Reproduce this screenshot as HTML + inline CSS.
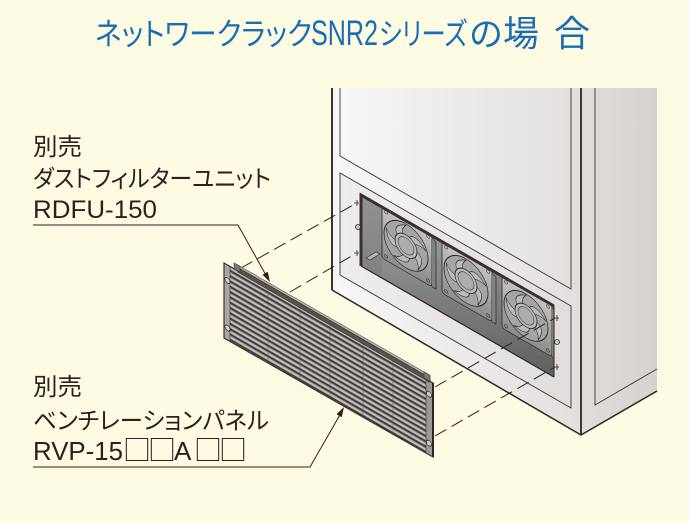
<!DOCTYPE html>
<html><head><meta charset="utf-8">
<style>
html,body{margin:0;padding:0;background:#fefbe3;}
svg{display:block}
.t{font-family:"Liberation Sans","Noto Sans CJK JP",sans-serif;}
.j{font-family:"Liberation Sans","Noto Sans CJK JP",sans-serif;font-feature-settings:"palt";}
.b{font-family:"Noto Sans CJK JP",sans-serif;}
</style></head>
<body>
<svg width="689" height="524" viewBox="0 0 689 524" xmlns="http://www.w3.org/2000/svg">
<defs>
 <linearGradient id="front" x1="332" y1="0" x2="581" y2="0" gradientUnits="userSpaceOnUse">
  <stop offset="0" stop-color="#f8f7f7"/><stop offset="1" stop-color="#e2dfdd"/>
 </linearGradient>
 <linearGradient id="front2" x1="340" y1="0" x2="571" y2="0" gradientUnits="userSpaceOnUse">
  <stop offset="0" stop-color="#efedec"/><stop offset="1" stop-color="#e0dddb"/>
 </linearGradient>
 <linearGradient id="side" x1="581" y1="0" x2="657" y2="0" gradientUnits="userSpaceOnUse">
  <stop offset="0" stop-color="#e0dddb"/><stop offset="1" stop-color="#d6d2cf"/>
 </linearGradient>
 <linearGradient id="hole" x1="0" y1="195" x2="0" y2="378" gradientUnits="userSpaceOnUse">
  <stop offset="0" stop-color="#a7abaa"/><stop offset="1" stop-color="#5e5e5e"/>
 </linearGradient>
 <linearGradient id="fanG" x1="0" y1="0" x2="0" y2="1">
  <stop offset="0" stop-color="#c2c5c4"/><stop offset="1" stop-color="#8a8d8c"/>
 </linearGradient>
 <clipPath id="hclip"><polygon points="361,195 554,306 554,377 361,266"/></clipPath>
 <clipPath id="pclip"><polygon points="224,263 433,383 433,457 224,338"/></clipPath>
 <pattern id="louv" width="10" height="5.3" patternUnits="userSpaceOnUse">
  <rect x="0" y="0" width="10" height="5.3" fill="#6f6b69"/>
  <rect x="0" y="0.6" width="10" height="2.3" fill="#c2bfbd"/>
  <rect x="0" y="3.5" width="10" height="1.4" fill="#3a3331"/>
 </pattern>
 <g id="fan">
  <path d="M3,0 H47 Q50,0 50,3 V49 Q50,52 47,52 H3 Q0,52 0,49 V3 Q0,0 3,0 Z" fill="url(#fanG)" stroke="#2b2523" stroke-width="0.8"/>
  <path d="M50,3 L54,5 V52 L50,52" fill="#7f8281" stroke="#2b2523" stroke-width="0.7"/>
  <circle cx="24" cy="26" r="22" fill="#a3a6a5" stroke="#2b2523" stroke-width="0.8"/>
  <g fill="#babdbc" stroke="#2b2523" stroke-width="0.6">
   <path d="M35,26 Q43.7,29.5 36,43.2 Q37,36.9 33,32.3 Z"/>
   <path d="M27.4,36.5 Q26.8,45.8 11.4,42.8 Q17.6,41.8 20.8,36.5 Z"/>
   <path d="M15.1,32.5 Q6,34.8 4.1,19.2 Q7,24.8 13,26.2 Z"/>
   <path d="M15.1,19.5 Q10.1,11.6 24.4,5 Q19.9,9.5 20.4,15.6 Z"/>
   <path d="M27.4,15.5 Q33.4,8.3 44.1,19.9 Q38.4,17 32.8,19.4 Z"/>
  </g>
  <circle cx="24" cy="26" r="11" fill="#b8bbba" stroke="#2b2523" stroke-width="0.8"/>
  <circle cx="24" cy="26" r="8" fill="#abaead" stroke="#2b2523" stroke-width="0.5"/>
  <g fill="none" stroke="#2b2523" stroke-width="0.5">
   <circle cx="4" cy="4" r="1.5"/><circle cx="46" cy="4" r="1.5"/>
   <circle cx="4" cy="48" r="1.5"/><circle cx="46" cy="48" r="1.5"/>
  </g>
 </g>
</defs>

<rect x="0" y="0" width="689" height="524" fill="#fefbe3"/>

<!-- Title -->
<g fill="#1a6db5">
 <text class="j" x="95" y="45" font-size="31" textLength="217" lengthAdjust="spacingAndGlyphs">ネットワークラック</text>
 <text x="311" y="45" font-size="35" textLength="67" lengthAdjust="spacingAndGlyphs" font-family="Liberation Sans, sans-serif">SNR2</text>
 <text class="j" x="379" y="45" font-size="31" textLength="88" lengthAdjust="spacingAndGlyphs">シリーズ</text>
 <text class="t" y="46" font-size="34"><tspan x="469">の</tspan><tspan x="503" font-size="36">場</tspan><tspan x="554" font-size="36">合</tspan></text>
</g>

<!-- Cabinet -->
<polygon points="332,88 581,88 581,435 332,290" fill="url(#front)"/>
<polygon points="581,88 657,88 657,392 581,435" fill="url(#side)"/>
<polyline points="340,88 340,156 571,289 571,88" fill="none" stroke="#3b322f" stroke-width="0.9"/>
<polygon points="340,173 571,306 571,408 340,275" fill="url(#front2)" stroke="#3b322f" stroke-width="0.9"/>
<polyline points="595,88 595,405 657,369" fill="none" stroke="#3b322f" stroke-width="0.9"/>
<line x1="332" y1="88" x2="332" y2="290" stroke="#3b322f" stroke-width="2"/>
<line x1="581" y1="88" x2="581" y2="435" stroke="#2e2624" stroke-width="1.8"/>
<polyline points="332,290 581,435 657,391" fill="none" stroke="#2e2624" stroke-width="1.5"/>

<!-- Opening -->
<polygon points="361,195 554,306 554,377 361,266" fill="url(#hole)"/>
<g clip-path="url(#hclip)">
 <polygon points="361,195 382,207 382,279 361,266" fill="#7a7a7a" opacity="0.5"/>
 <use href="#fan" transform="matrix(1,0.577,0,1,382,206)"/>
 <use href="#fan" transform="matrix(1,0.577,0,1,442,241)"/>
 <use href="#fan" transform="matrix(1,0.577,0,1,502,276)"/>
 <polygon points="366,258 376,252 380,254 370,260" fill="#b5b8b7" stroke="#2b2523" stroke-width="0.6"/>
</g>
<polyline points="361,266 361,195 554,306" fill="none" stroke="#3a2f2c" stroke-width="3"/>
<line x1="361" y1="266" x2="554" y2="377" stroke="#2e2624" stroke-width="1.2"/>
<line x1="554" y1="306" x2="554" y2="377" stroke="#2e2624" stroke-width="1"/>

<!-- Screws -->
<g stroke="#2b2523" stroke-width="0.8" fill="#c8c8c8">
 <path d="M354,203 h5 M357,200 v6" fill="none"/>
 <circle cx="358" cy="227" r="2.5"/>
 <path d="M354,253 h5 M357,250 v6" fill="none"/>
 <path d="M554,318 h5 M557,315 v6" fill="none"/>
 <circle cx="557" cy="342" r="2.5"/>
 <path d="M554,367 h5 M557,364 v6" fill="none"/>
</g>

<!-- Dashed lines -->
<g stroke="#2a211f" stroke-width="1" stroke-dasharray="13 6" fill="none">
 <line x1="241" y1="268" x2="355" y2="204"/>
 <line x1="290" y1="292" x2="355" y2="254"/>
 <line x1="435" y1="387" x2="555" y2="318"/>
 <line x1="435" y1="436" x2="555" y2="367"/>
</g>

<!-- Vent panel -->
<g clip-path="url(#pclip)">
 <g transform="matrix(1,0.574,0,1,224,263)">
  <rect x="0" y="0" width="209" height="75" fill="url(#louv)"/>
  <g stroke="#5a5351" stroke-width="0.8" stroke-dasharray="2.3 3" stroke-dashoffset="-0.6" opacity="0.6">
   <line x1="44" y1="0" x2="44" y2="75"/>
   <line x1="76" y1="0" x2="76" y2="75"/>
   <line x1="106" y1="0" x2="106" y2="75"/>
   <line x1="139" y1="0" x2="139" y2="75"/>
   <line x1="169" y1="0" x2="169" y2="75"/>
  </g>
  <rect x="0" y="0" width="6" height="75" fill="#aaa6a4" stroke="#3a3230" stroke-width="0.6"/>
  <rect x="202" y="0" width="7" height="75" fill="#9c9896" stroke="#3a3230" stroke-width="0.6"/>
  <g fill="#d2cfcd" stroke="#2b2523" stroke-width="0.7">
   <circle cx="3.5" cy="15.5" r="2.6"/><circle cx="3.5" cy="63" r="2.6"/>
   <circle cx="205" cy="13.5" r="2.6"/><circle cx="205" cy="62.5" r="2.6"/>
  </g>
 </g>
</g>
<polygon points="224,263 433,383 433,457 224,338" fill="none" stroke="#3a3230" stroke-width="1.2"/>
<line x1="433" y1="383" x2="433" y2="457" stroke="#2e2624" stroke-width="2"/>
<!-- Filter bar -->
<g transform="matrix(1,0.574,0,1,224,263)">
 <rect x="14" y="-6" width="192" height="2.6" fill="#b5b1af" stroke="#3a3230" stroke-width="0.5"/>
 <rect x="14" y="-3.4" width="192" height="4.6" fill="#58524f" stroke="#2e2624" stroke-width="0.6"/>
 <rect x="10" y="-6" width="6" height="6" fill="#7d7876" stroke="#2e2624" stroke-width="0.5"/>
 <rect x="200" y="-6" width="6" height="6" fill="#7d7876" stroke="#2e2624" stroke-width="0.5"/>
</g>

<!-- Leaders -->
<g stroke="#2a211f" stroke-width="1" fill="none">
 <polyline points="33,225 238,225 267,277"/>
 <polyline points="33,467 310,467 341,413"/>
</g>
<g fill="#2a211f">
 <polygon points="270,282 262.5,274.8 267.7,271.8"/>
 <polygon points="344,407 341.7,417.2 336.5,414.2"/>
</g>

<!-- Labels -->
<g fill="#2a211f">
 <text class="t" x="33" y="155" font-size="24" textLength="49" lengthAdjust="spacingAndGlyphs">別売</text>
 <text class="j" x="33" y="187" font-size="24" textLength="238" lengthAdjust="spacingAndGlyphs">ダストフィルターユニット</text>
 <text class="t" x="33" y="218" font-size="25" textLength="124" lengthAdjust="spacingAndGlyphs">RDFU-150</text>
 <text class="t" x="33" y="395" font-size="24" textLength="49" lengthAdjust="spacingAndGlyphs">別売</text>
 <text class="j" x="33" y="429" font-size="24" textLength="236" lengthAdjust="spacingAndGlyphs">ベンチレーションパネル</text>
 <text class="t" y="460" font-size="26"><tspan x="33" textLength="90" lengthAdjust="spacingAndGlyphs">RVP-15</tspan><tspan class="b" x="123" font-size="28">□</tspan><tspan class="b" x="148" font-size="28">□</tspan><tspan x="174">A</tspan><tspan class="b" x="194" font-size="28">□</tspan><tspan class="b" x="219" font-size="28">□</tspan></text>
</g>
</svg>
</body></html>
